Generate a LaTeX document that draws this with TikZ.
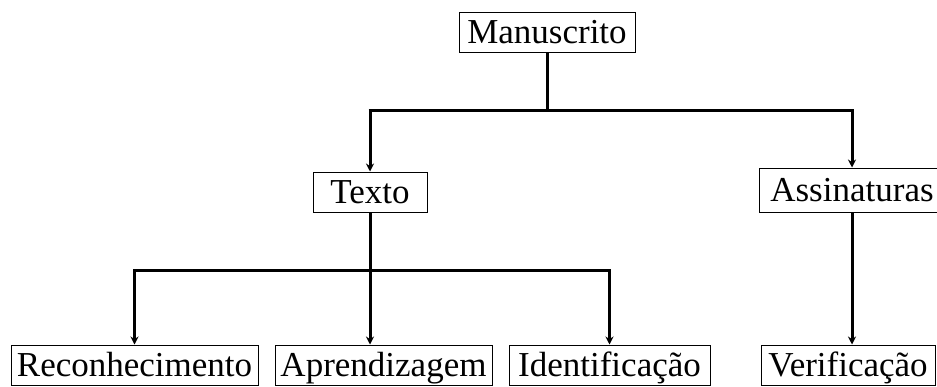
\documentclass[tikz,border=0pt]{standalone}
\usepackage{fontspec}
\setmainfont{Liberation Serif}
\usetikzlibrary{arrows.meta}
\begin{document}
\begin{tikzpicture}[x=1pt,y=1pt,
  box/.style={draw, line width=1pt, inner sep=0pt, minimum height=40pt,
    text height=28pt, text depth=5pt,
    font=\fontsize{35}{40}\selectfont},
  link/.style={line width=3pt},
  arr/.style={line width=3pt, -{Stealth[length=8pt,width=8pt]}}]
\useasboundingbox (0,0) rectangle (937,-386);

% tree of nodes
\node[box, minimum width=176pt] (man) at (547,-32) {Manuscrito};
\node[box, minimum width=114pt] (tex) at (370,-192) {Texto};
\node[box, minimum width=186pt, minimum height=44pt] (ass) at (852,-190) {Assinaturas\hspace{8pt}};
\node[box, minimum width=247pt] (rec) at (134.5,-365) {Reconhecimento};
\node[box, minimum width=217pt] (apr) at (383.5,-365) {Aprendizagem};
\node[box, minimum width=201pt] (ide) at (609.5,-365) {Identificação};
\node[box, minimum width=174pt] (ver) at (848,-365) {Verificação};

% branching points
\coordinate (j1) at (547,-110);
\coordinate (j2) at (370,-270);

% connectors
\draw[link] (man.south) -- (j1);
\draw[link] ([xshift=-1.5pt]j1 -| tex.north) -- ([xshift=1.5pt]j1 -| ass.north);
\draw[arr] (j1 -| tex.north) -- (tex.north);
\draw[arr] (j1 -| ass.north) -- (ass.north);
\draw[link] (tex.south) -- (j2);
\draw[link] ([xshift=-1.5pt]j2 -| rec.north) -- ([xshift=1.5pt]j2 -| ide.north);
\draw[arr] (j2 -| rec.north) -- (rec.north);
\draw[arr] (j2 -| ide.north) -- (ide.north);
\draw[arr] (j2) -- (j2 |- apr.north);
\draw[arr] (ass.south) -- (ass.south |- ver.north);
\end{tikzpicture}
\end{document}
